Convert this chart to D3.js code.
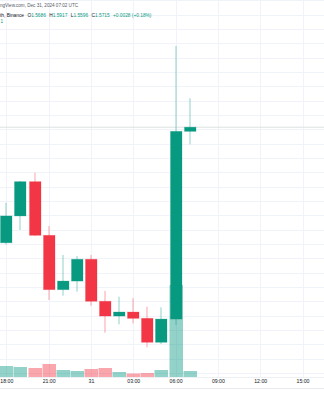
<!DOCTYPE html>
<html lang="en">
<head>
<meta charset="utf-8">
<title>Candles</title>
<script src="https://cdn.jsdelivr.net/npm/d3@7"></script>
<style>
  html, body { margin: 0; padding: 0; background: #fff; }
  svg { display: block; font-family: "Liberation Sans", Arial, sans-serif; }
</style>
</head>
<body>
<script>
// hourly candles, Dec 30 18:00 -> Dec 31 07:00 UTC
var times   = ['2024-12-30T18:00Z','2024-12-30T19:00Z','2024-12-30T20:00Z','2024-12-30T21:00Z',
               '2024-12-30T22:00Z','2024-12-30T23:00Z','2024-12-31T00:00Z','2024-12-31T01:00Z',
               '2024-12-31T02:00Z','2024-12-31T03:00Z','2024-12-31T04:00Z','2024-12-31T05:00Z',
               '2024-12-31T06:00Z','2024-12-31T07:00Z'];
var opens   = [1.4909, 1.5096, 1.5335, 1.4961, 1.4582, 1.4642, 1.4794, 1.4501, 1.4398, 1.4426, 1.4382, 1.4215, 1.4377, 1.5686];
var highs   = [1.5188, 1.5340, 1.5398, 1.5026, 1.4824, 1.4817, 1.4824, 1.4573, 1.4533, 1.4522, 1.4463, 1.4459, 1.6281, 1.5917];
var lows    = [1.4897, 1.4998, 1.4956, 1.4510, 1.4540, 1.4568, 1.4470, 1.4282, 1.4340, 1.4347, 1.4180, 1.4203, 1.4336, 1.5596];
var closes  = [1.5096, 1.5335, 1.4961, 1.4582, 1.4642, 1.4794, 1.4501, 1.4398, 1.4426, 1.4382, 1.4215, 1.4377, 1.5686, 1.5715];
var volumes = [110, 100, 90, 130, 70, 60, 80, 90, 50, 35, 40, 70, 920, 60];

var tickTimes  = ['2024-12-30T18:00Z','2024-12-30T21:00Z','2024-12-31T00:00Z','2024-12-31T03:00Z',
                  '2024-12-31T06:00Z','2024-12-31T09:00Z','2024-12-31T12:00Z','2024-12-31T15:00Z'];
var tickLabels = ['18:00', '21:00', '31', '03:00', '06:00', '09:00', '12:00', '15:00'];

var W = 324, H = 400;
var up = '#089981', down = '#F23645';

var candles = times.map(function(t, i){
  return { t: new Date(t), o: opens[i], h: highs[i], l: lows[i], c: closes[i], v: volumes[i] };
});

var svg = d3.select('body').append('svg').attr('width', W).attr('height', H);

var x = d3.scaleTime()
  .domain([new Date(tickTimes[0]), new Date(tickTimes[7])])
  .range([6.3, 302.5]);

var y = d3.scaleLinear().domain([1.58, 1.63]).range([115, 43.3]);
var yv = d3.scaleLinear().domain([0, 1000]).range([377, 277]);

// grid
var gridPrices = d3.ticks(y.invert(377), y.invert(0), 26);
svg.append('g').selectAll('line').data(gridPrices).enter().append('line')
  .attr('x1', 0).attr('x2', W)
  .attr('y1', function(d){ return Math.round(y(d)) + 0.5; })
  .attr('y2', function(d){ return Math.round(y(d)) + 0.5; })
  .attr('stroke', '#f0f3fa');

svg.append('g').selectAll('line').data(tickTimes).enter().append('line')
  .attr('x1', function(d){ return Math.round(x(new Date(d))) + 0.5; })
  .attr('x2', function(d){ return Math.round(x(new Date(d))) + 0.5; })
  .attr('y1', 0).attr('y2', 377)
  .attr('stroke', '#f0f3fa');

// volume
svg.append('g').selectAll('rect').data(candles).enter().append('rect')
  .attr('x', function(d){ return Math.round(x(d.t)) - 6.5; })
  .attr('width', 13.5)
  .attr('y', function(d){ return yv(d.v); })
  .attr('height', function(d){ return yv(0) - yv(d.v); })
  .attr('fill', function(d){ return d.c >= d.o ? up : down; })
  .attr('fill-opacity', 0.44);

// last price line
var last = candles[candles.length - 1];
svg.append('line')
  .attr('x1', 0).attr('x2', W)
  .attr('y1', y(last.c)).attr('y2', y(last.c))
  .attr('stroke', '#dbe3e1').attr('stroke-width', 1);

// wicks
svg.append('g').selectAll('rect').data(candles).enter().append('rect')
  .attr('x', function(d){ return Math.round(x(d.t)) - 0.5; })
  .attr('width', 1)
  .attr('y', function(d){ return y(d.h); })
  .attr('height', function(d){ return y(d.l) - y(d.h); })
  .attr('fill', function(d){ return d.c >= d.o ? up : down; })
  .attr('fill-opacity', 0.45);

// bodies
svg.append('g').selectAll('rect').data(candles).enter().append('rect')
  .attr('x', function(d){ return Math.round(x(d.t)) - 5.5; })
  .attr('width', 11.5)
  .attr('y', function(d){ return y(Math.max(d.o, d.c)); })
  .attr('height', function(d){ return Math.max(1, Math.abs(y(d.o) - y(d.c))); })
  .attr('fill', function(d){ return d.c >= d.o ? up : down; })
  .attr('stroke', function(d){ return d.c >= d.o ? up : down; })
  .attr('stroke-opacity', 0.35)
  .attr('stroke-width', 0.8);

// time axis
svg.append('line').attr('x1', 0).attr('x2', W).attr('y1', 377.5).attr('y2', 377.5).attr('stroke', '#eef0f3');
svg.append('line').attr('x1', 0).attr('x2', W).attr('y1', 388.5).attr('y2', 388.5).attr('stroke', '#e8eaee');

var axis = d3.axisBottom(x)
  .tickValues(tickTimes.map(function(d){ return new Date(d); }))
  .tickFormat(function(d, i){ return tickLabels[i]; })
  .tickSize(0).tickPadding(0);

var ax = svg.append('g').attr('transform', 'translate(0,379)').call(axis);
ax.select('.domain').remove();
ax.selectAll('text')
  .attr('font-size', '5.2px')
  .attr('fill', '#131722')
  .attr('font-family', '"Liberation Sans", Arial, sans-serif');

// header (the snapshot is cropped on the left, only the tail of each line shows)
svg.append('text').attr('x', 0).attr('y', 7)
  .attr('font-size', '4.6px').attr('fill', '#555a66')
  .text('ngView.com, Dec 31, 2024 07:02 UTC');

var hdr = svg.append('text').attr('x', 0).attr('y', 16.5).attr('font-size', '4.8px');
hdr.append('tspan').attr('fill', '#131722').text('th, Binance');
var legend = [['O', opens[13]], ['H', highs[13]], ['L', lows[13]], ['C', closes[13]]];
legend.forEach(function(p){
  hdr.append('tspan').attr('dx', 3.4).attr('fill', '#131722').text(p[0]);
  hdr.append('tspan').attr('fill', up).text(p[1].toFixed(4));
});
hdr.append('tspan').attr('dx', 3.4).attr('fill', up).text('+0.0028 (+0.18%)');

svg.append('text').attr('x', 0.5).attr('y', 22.5)
  .attr('font-size', '4.6px').attr('fill', up).text('1');
</script>
</body>
</html>
